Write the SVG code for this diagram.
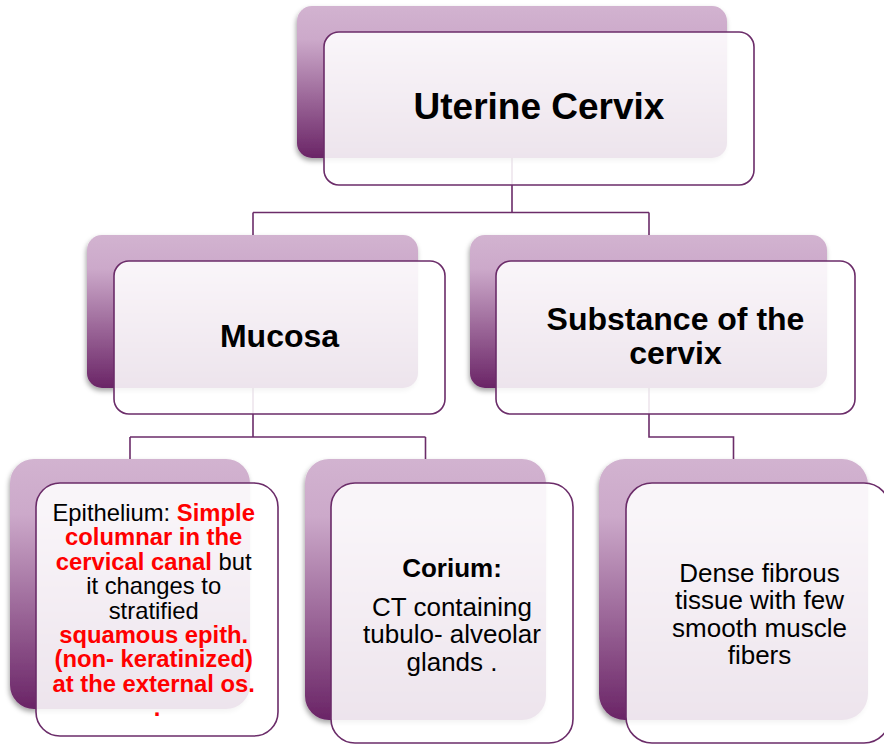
<svg xmlns="http://www.w3.org/2000/svg" width="884" height="745" viewBox="0 0 884 745">
<defs>
  <linearGradient id="bg" x1="0" y1="0" x2="0" y2="1">
    <stop offset="0" stop-color="#d2b3d0"/>
    <stop offset="0.22" stop-color="#cca9ca"/>
    <stop offset="1" stop-color="#6a2466"/>
  </linearGradient>
  <filter id="sh" x="-10%" y="-10%" width="120%" height="125%">
    <feDropShadow dx="-1" dy="3" stdDeviation="2.5" flood-color="#000" flood-opacity="0.35"/>
  </filter>
</defs>
<style>
  .back { fill: url(#bg); filter: url(#sh); }
  .front { fill: #ffffff; fill-opacity: 0.88; stroke: #6b2c69; stroke-width: 1.6; }
  .conn { fill: none; stroke: #6b2c69; stroke-width: 1.6; }
  .t { font-family: "Liberation Sans", Arial, sans-serif; fill: #000; text-anchor: middle; }
  .b { font-weight: bold; }
  .r { fill: #ff0000; font-weight: bold; }
  .k { fill: #000; font-weight: normal; }
</style>

<g id="connectors">
  <path class="conn" d="M512,158 V212.5 M253,212.5 H649 M253,212.5 V235 M649,212.5 V235"/>
  <path class="conn" d="M253,388 V437 M130,437 H425.5 M130,437 V459 M425.5,437 V459"/>
  <path class="conn" d="M649,388 V437 H733.5 V459"/>
</g>

<g id="node-uterine-cervix">
  <rect class="back" x="297" y="6" width="430" height="152" rx="15"/>
  <rect class="front" x="324" y="32" width="430" height="153" rx="15"/>
  <text class="t b" x="539" y="119" font-size="37">Uterine Cervix</text>
</g>

<g id="node-mucosa">
  <rect class="back" x="87" y="235" width="331" height="153" rx="15"/>
  <rect class="front" x="114" y="261" width="331" height="153" rx="15"/>
  <text class="t b" x="279.5" y="347" font-size="32">Mucosa</text>
</g>

<g id="node-substance">
  <rect class="back" x="470" y="235" width="357" height="153" rx="15"/>
  <rect class="front" x="496" y="261" width="359" height="153" rx="15"/>
  <text class="t b" x="675.5" y="330" font-size="32">Substance of the</text>
  <text class="t b" x="675.5" y="364" font-size="32">cervix</text>
</g>

<g id="node-epithelium">
  <rect class="back" x="10" y="459" width="240" height="250" rx="24"/>
  <rect class="front" x="36" y="483" width="242" height="253" rx="24"/>
  <text class="t" font-size="23.8">
    <tspan x="157" y="521"><tspan class="k">Epithelium: </tspan><tspan class="r">Simple</tspan></tspan>
    <tspan x="157" y="545.4" class="r">columnar in the</tspan>
    <tspan x="157" y="569.8"><tspan class="r">cervical canal</tspan><tspan class="k"> but</tspan></tspan>
    <tspan x="157" y="594.2" class="k">it changes to</tspan>
    <tspan x="157" y="618.6" class="k">stratified</tspan>
    <tspan x="157" y="643" class="r">squamous epith.</tspan>
    <tspan x="157" y="667.4" class="r">(non- keratinized)</tspan>
    <tspan x="157" y="691.8" class="r">at the external os.</tspan>
    <tspan x="157" y="716.2" class="r">.</tspan>
  </text>
</g>

<g id="node-corium">
  <rect class="back" x="305" y="459" width="241" height="261" rx="24"/>
  <rect class="front" x="331" y="483" width="242" height="260" rx="24"/>
  <text class="t b" x="452" y="577" font-size="26">Corium:</text>
  <text class="t" x="452" y="616" font-size="26">CT containing</text>
  <text class="t" x="452" y="643.3" font-size="26">tubulo- alveolar</text>
  <text class="t" x="452" y="670.6" font-size="26">glands .</text>
</g>

<g id="node-dense">
  <rect class="back" x="599" y="459" width="269" height="261" rx="26"/>
  <rect class="front" x="626" y="483" width="264" height="260" rx="26"/>
  <text class="t" x="759.5" y="582" font-size="26">Dense fibrous</text>
  <text class="t" x="759.5" y="609.3" font-size="26">tissue with few</text>
  <text class="t" x="759.5" y="636.6" font-size="26">smooth muscle</text>
  <text class="t" x="759.5" y="663.9" font-size="26">fibers</text>
</g>
</svg>
